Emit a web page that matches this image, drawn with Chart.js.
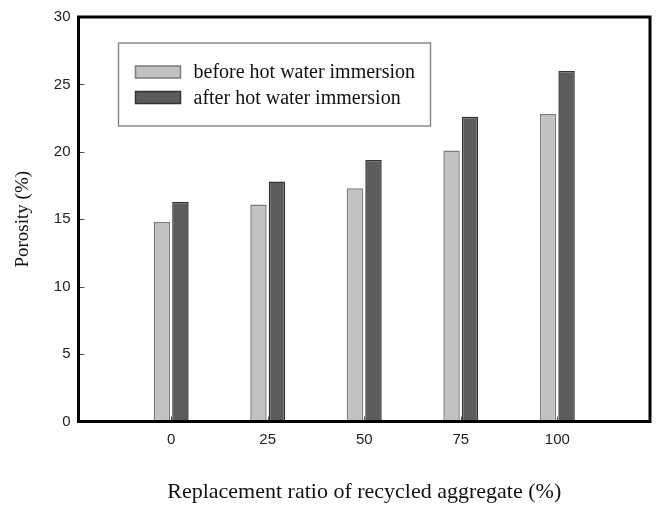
<!DOCTYPE html>
<html>
<head>
<meta charset="utf-8">
<script src="https://cdn.jsdelivr.net/npm/chart.js@4/dist/chart.umd.min.js"></script>
<style>
  body { margin: 0; background: #fff; }
  canvas { display: block; }
</style>
</head>
<body>
<canvas id="porosity" width="660" height="508"></canvas>
<script>
// replacement ratio of recycled aggregate (%)
const ratios = [0, 25, 50, 75, 100];
// porosity (%)
const beforeImmersion = [14.8, 16.1, 17.3, 20.1, 22.8];
const afterImmersion = [16.3, 17.8, 19.4, 22.6, 26.0];
const yTicks = [0, 5, 10, 15, 20, 25, 30];

const serif = "'Liberation Serif', 'Times New Roman', serif";
const sans = "'Liberation Sans', Arial, sans-serif";

// thick black frame round the plot plus small inward ticks
const framePlugin = {
    id: 'frame',
    afterDatasetsDraw(chart) {
        const ctx = chart.ctx;
        const a = chart.chartArea;
        const xs = chart.scales.x;
        const ys = chart.scales.y;
        ctx.save();
        ctx.strokeStyle = '#555';
        ctx.lineWidth = 1;
        ctx.beginPath();
        yTicks.forEach(v => {
            const py = Math.round(ys.getPixelForValue(v)) + 0.5;
            ctx.moveTo(a.left, py);
            ctx.lineTo(a.left + 6, py);
        });
        ratios.forEach(v => {
            const px = Math.round(xs.getPixelForValue(v)) + 0.5;
            ctx.moveTo(px, a.bottom);
            ctx.lineTo(px, a.bottom - 5);
        });
        ctx.stroke();
        ctx.strokeStyle = '#000';
        ctx.lineWidth = 3;
        ctx.strokeRect(a.left, a.top, a.right - a.left, a.bottom - a.top);
        ctx.restore();
    }
};

// boxed legend in the upper left of the plot
const boxLegend = {
    id: 'boxLegend',
    afterDraw(chart) {
        const ctx = chart.ctx;
        const a = chart.chartArea;
        const x0 = a.left + 40, y0 = a.top + 26;
        ctx.save();
        ctx.strokeStyle = '#8a8a8a';
        ctx.lineWidth = 1.5;
        ctx.strokeRect(x0, y0, 312, 83);
        ctx.font = '20px ' + serif;
        ctx.textBaseline = 'middle';
        ctx.textAlign = 'left';
        chart.data.datasets.forEach((ds, i) => {
            const cy = y0 + 29 + i * 25.5;
            ctx.fillStyle = ds.backgroundColor;
            ctx.strokeStyle = ds.borderColor;
            ctx.lineWidth = 1.5;
            ctx.fillRect(x0 + 17, cy - 6, 45, 12);
            ctx.strokeRect(x0 + 17, cy - 6, 45, 12);
            ctx.fillStyle = '#111';
            ctx.fillText(ds.label, x0 + 75, cy + 1);
        });
        ctx.restore();
    }
};

const ctx = document.getElementById('porosity');

new Chart(ctx, {
    type: 'bar',
    data: {
        datasets: [{
            label: 'before hot water immersion',
            data: ratios.map((r, i) => ({ x: r, y: beforeImmersion[i] })),
            backgroundColor: '#c2c2c2',
            borderColor: '#7c7c7c',
            borderWidth: 1.5,
            borderSkipped: 'bottom',
            categoryPercentage: 0.383,
            barPercentage: 0.89
        }, {
            label: 'after hot water immersion',
            data: ratios.map((r, i) => ({ x: r, y: afterImmersion[i] })),
            backgroundColor: '#5c5c5c',
            borderColor: '#333',
            borderWidth: 1.5,
            borderSkipped: 'bottom',
            categoryPercentage: 0.383,
            barPercentage: 0.89
        }]
    },
    options: {
        responsive: false,
        animation: false,
        layout: { padding: { left: 0, right: 10, top: 8, bottom: 0 } },
        plugins: {
            legend: { display: false },
            tooltip: { enabled: false }
        },
        scales: {
            x: {
                type: 'linear',
                offset: false,
                min: -24,
                max: 124,
                afterBuildTicks: axis => { axis.ticks = ratios.map(v => ({ value: v })); },
                afterFit: axis => { axis.height = 86.5; },
                grid: { display: false, drawTicks: false, offset: false },
                border: { display: false },
                ticks: {
                    padding: 9,
                    color: '#222',
                    font: { family: sans, size: 15 }
                },
                title: {
                    display: true,
                    text: 'Replacement ratio of recycled aggregate (%)',
                    color: '#111',
                    font: { family: serif, size: 22 },
                    padding: { top: 0, bottom: 3 }
                }
            },
            y: {
                min: 0,
                max: 30,
                afterBuildTicks: axis => { axis.ticks = yTicks.map(v => ({ value: v })); },
                afterFit: axis => { axis.width = 78.5; },
                grid: { display: false, drawTicks: false },
                border: { display: false },
                ticks: {
                    padding: 8,
                    color: '#222',
                    font: { family: sans, size: 15 }
                },
                title: {
                    display: true,
                    text: 'Porosity (%)',
                    color: '#111',
                    font: { family: serif, size: 19 },
                    padding: { top: 12, bottom: 0 }
                }
            }
        }
    },
    plugins: [framePlugin, boxLegend]
});
</script>
</body>
</html>
